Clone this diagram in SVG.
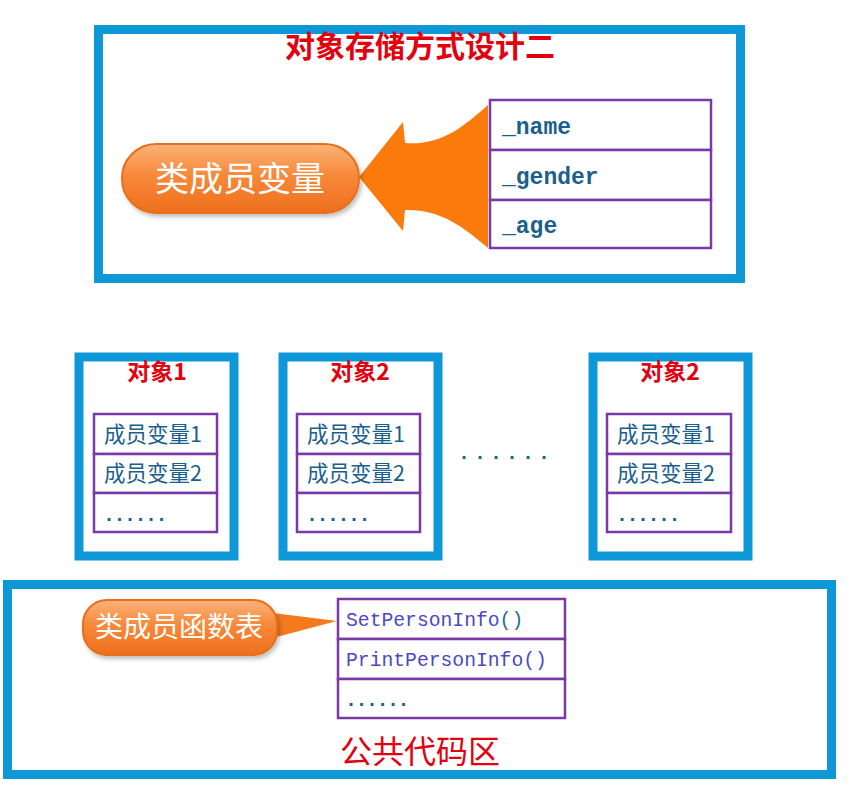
<svg xmlns="http://www.w3.org/2000/svg" width="864" height="802" viewBox="0 0 864 802">
<defs>
<linearGradient id="og" x1="0" y1="0" x2="0" y2="1">
<stop offset="0" stop-color="#fbb27a"/>
<stop offset="0.45" stop-color="#f7893a"/>
<stop offset="1" stop-color="#ef6f1c"/>
</linearGradient>
<filter id="sh" x="-10%" y="-20%" width="130%" height="150%">
<feDropShadow dx="2" dy="3" stdDeviation="2" flood-color="#000" flood-opacity="0.25"/>
</filter>
</defs>
<style>
.frame{fill:#fff;stroke:#0f98d8;stroke-width:9}
.cell{fill:#fff;stroke:#7a3aa6;stroke-width:2.5}
.red{fill:#e3000f;font-family:"Noto Sans CJK SC",sans-serif;font-weight:bold;text-anchor:middle}
.var{fill:#1b5f8c;font-family:"Noto Sans CJK SC",sans-serif;font-size:21.5px}
.mono{fill:#1b5f8c;font-family:"Liberation Mono",monospace;font-weight:bold;font-size:23px}
.fn{fill:#4a48c8;font-family:"Liberation Mono",monospace;font-size:19.7px}
.dots{fill:#1b5f8c;font-family:"Liberation Mono",monospace;font-weight:bold;font-size:20px}
.pilltxt{fill:#fff;font-family:"Noto Sans CJK SC",sans-serif;text-anchor:middle}
.orange{fill:url(#og);stroke:#e5701c;stroke-width:2}
</style>
<rect width="864" height="802" fill="#fff"/>

<g id="design-box">
<rect class="frame" x="98.5" y="29.5" width="642" height="249"/>
<text class="red" x="420" y="57" font-size="30">对象存储方式设计二</text>
</g>

<g id="member-table">
<rect class="cell" x="490" y="100" width="221" height="50"/>
<rect class="cell" x="490" y="150" width="221" height="50"/>
<rect class="cell" x="490" y="200" width="221" height="48"/>
<text class="mono" x="502" y="134">_name</text>
<text class="mono" x="502" y="184">_gender</text>
<text class="mono" x="502" y="233">_age</text>
</g>

<g id="obj1">
<rect class="frame" x="79" y="357" width="155" height="199"/>
<text class="red" x="157" y="380" font-size="23">对象1</text>
<rect class="cell" x="94" y="414" width="123" height="40"/>
<rect class="cell" x="94" y="454" width="123" height="39"/>
<rect class="cell" x="94" y="493" width="123" height="39"/>
<text class="var" x="104" y="442">成员变量1</text>
<text class="var" x="104" y="481">成员变量2</text>
<text class="dots" x="103" y="521" letter-spacing="-1.5">......</text>
</g>

<g id="obj2">
<rect class="frame" x="283" y="357" width="155" height="199"/>
<text class="red" x="360" y="380" font-size="23">对象2</text>
<rect class="cell" x="297" y="414" width="123" height="40"/>
<rect class="cell" x="297" y="454" width="123" height="39"/>
<rect class="cell" x="297" y="493" width="123" height="39"/>
<text class="var" x="307" y="442">成员变量1</text>
<text class="var" x="307" y="481">成员变量2</text>
<text class="dots" x="306" y="521" letter-spacing="-1.5">......</text>
</g>

<g id="ellipsis">
<text class="dots" x="458" y="459" font-size="26" letter-spacing="4">......</text>
</g>

<g id="obj3">
<rect class="frame" x="593" y="357" width="155" height="199"/>
<text class="red" x="670" y="380" font-size="23">对象2</text>
<rect class="cell" x="607" y="414" width="124" height="40"/>
<rect class="cell" x="607" y="454" width="124" height="39"/>
<rect class="cell" x="607" y="493" width="124" height="39"/>
<text class="var" x="617" y="442">成员变量1</text>
<text class="var" x="617" y="481">成员变量2</text>
<text class="dots" x="616" y="521" letter-spacing="-1.5">......</text>
</g>

<g id="public-code">
<rect class="frame" x="7.5" y="584.5" width="824" height="190"/>
<text x="420" y="763" font-size="32" fill="#e3000f" font-family="Noto Sans CJK SC, sans-serif" text-anchor="middle">公共代码区</text>
</g>

<g id="function-table">
<rect class="cell" x="338" y="599" width="227" height="40"/>
<rect class="cell" x="338" y="639" width="227" height="40"/>
<rect class="cell" x="338" y="679" width="227" height="39"/>
<text class="fn" x="346" y="626">SetPersonInfo<tspan fill="#1b6f8c">()</tspan></text>
<text class="fn" x="346" y="666">PrintPersonInfo()</text>
<text class="dots" x="345" y="706" letter-spacing="-1.5">......</text>
</g>

<g id="connectors">
<path d="M359,177 L403,122 L405,143 C440,146 462,128 488,105 L488,248 C462,226 440,209 405,210 L403,231 Z" fill="#fb7a0c"/>
<path d="M265,612 L337,621 L265,640 Z" fill="#f47a1e"/>
</g>

<g id="class-member-var">
<rect class="orange" x="122" y="144" width="237" height="69" rx="34" filter="url(#sh)"/>
<text class="pilltxt" x="240" y="191" font-size="34">类成员变量</text>
</g>

<g id="class-member-func">
<rect class="orange" x="83" y="600" width="194" height="55" rx="24" filter="url(#sh)"/>
<text class="pilltxt" x="179" y="637" font-size="28">类成员函数表</text>
</g>
</svg>
